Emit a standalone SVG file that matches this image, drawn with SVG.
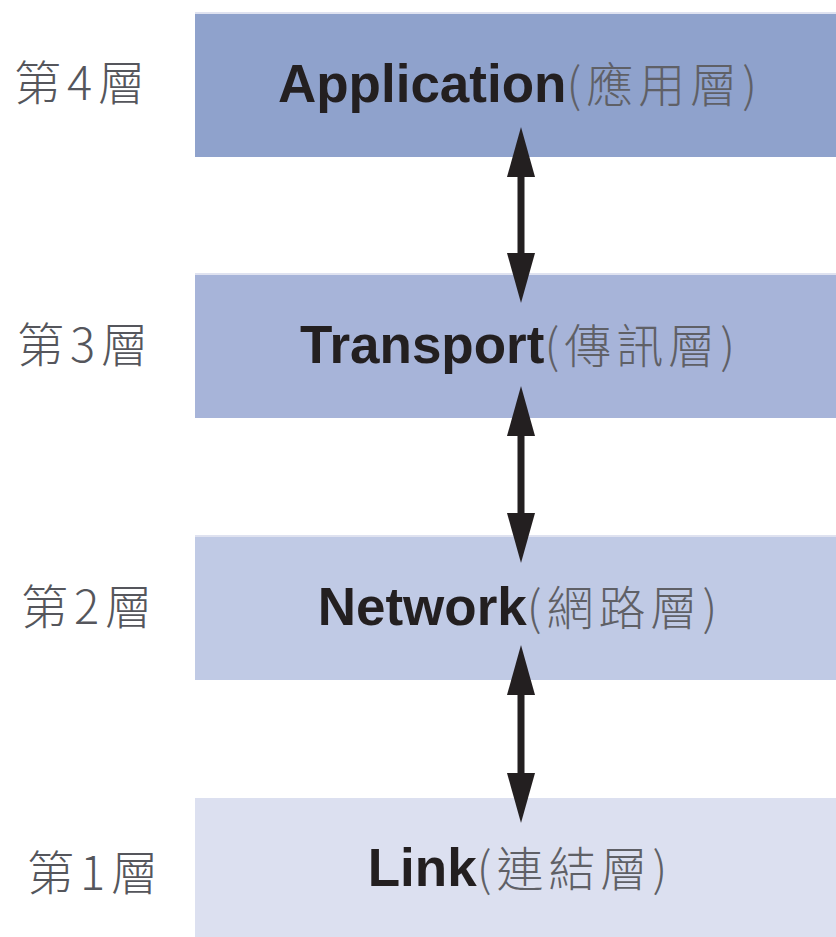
<svg xmlns="http://www.w3.org/2000/svg" width="836" height="937" viewBox="0 0 836 937">
<defs>
<style>
.box{stroke:none}
.en{font-family:"Liberation Sans",Arial,sans-serif;font-weight:bold;font-size:53px;fill:#231f20}
.zh{font-family:"Noto Sans CJK TC","Noto Sans CJK SC",sans-serif;font-weight:300;font-size:47px;fill:#5f6066;letter-spacing:5px}
.lbl{font-family:"Noto Sans CJK TC","Noto Sans CJK SC",sans-serif;font-weight:300;font-size:47px;fill:#55565c;letter-spacing:6px}
.arr{stroke:#231f20;stroke-width:7;fill:none}
.top{stroke:#dfe2f0;stroke-width:2}
</style>
<marker id="ah" viewBox="0 0 50 28" refX="30" refY="14" markerWidth="50" markerHeight="28" markerUnits="userSpaceOnUse" orient="auto-start-reverse">
<path d="M0,0 L50,14 L0,28 z" fill="#231f20"/>
</marker>
</defs>
<rect width="836" height="937" fill="#ffffff"/>
<g id="layer4">
<rect class="box" x="195" y="14" width="641" height="143" fill="#8fa2cc"/>
<line class="top" x1="195" y1="13" x2="836" y2="13"/>
<text class="lbl" x="14" y="100">第4層</text>
<text x="520" y="102" text-anchor="middle"><tspan class="en">Application</tspan><tspan class="zh">(應用層)</tspan></text>
</g>
<g id="layer3">
<rect class="box" x="195" y="275" width="641" height="143" fill="#a7b4d9"/>
<line class="top" x1="195" y1="274" x2="836" y2="274"/>
<text class="lbl" x="17" y="362">第3層</text>
<text x="520" y="363" text-anchor="middle"><tspan class="en">Transport</tspan><tspan class="zh">(傳訊層)</tspan></text>
</g>
<g id="layer2">
<rect class="box" x="195" y="537" width="641" height="143" fill="#c0cae5"/>
<line class="top" x1="195" y1="536" x2="836" y2="536"/>
<text class="lbl" x="21" y="624">第2層</text>
<text x="520" y="625" text-anchor="middle"><tspan class="en">Network</tspan><tspan class="zh">(網路層)</tspan></text>
</g>
<g id="layer1">
<rect class="box" x="195" y="798" width="641" height="139" fill="#dce0f0"/>
<text class="lbl" x="27" y="890">第1層</text>
<text x="520" y="886" text-anchor="middle"><tspan class="en">Link</tspan><tspan class="zh">(連結層)</tspan></text>
</g>
<g id="connectors">
<line class="arr" x1="521" y1="147" x2="521" y2="283" marker-start="url(#ah)" marker-end="url(#ah)"/>
<line class="arr" x1="521" y1="406" x2="521" y2="543" marker-start="url(#ah)" marker-end="url(#ah)"/>
<line class="arr" x1="521" y1="665" x2="521" y2="803" marker-start="url(#ah)" marker-end="url(#ah)"/>
</g>
</svg>
